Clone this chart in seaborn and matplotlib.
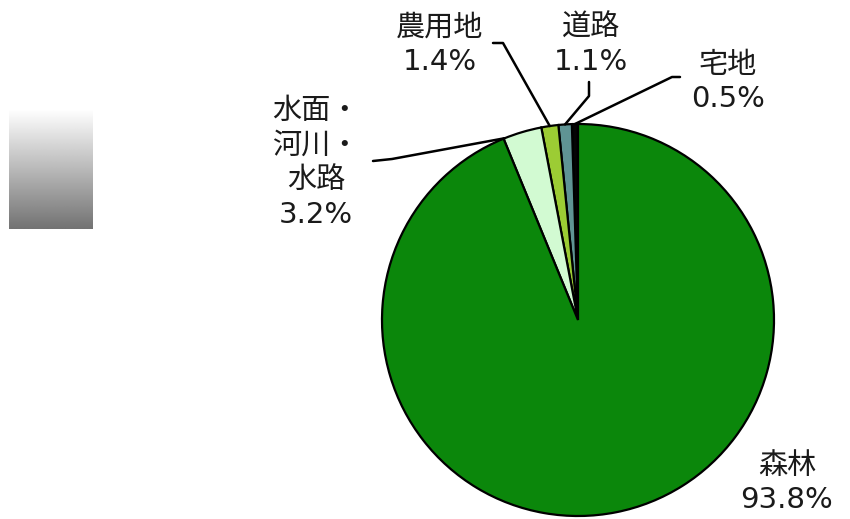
import numpy as np
import matplotlib
matplotlib.use("Agg")
import matplotlib.pyplot as plt
import seaborn as sns

# ---- data ----
categories = ["宅地", "道路", "農用地", "水面・\n河川・\n水路", "森林"]
values = [0.5, 1.1, 1.4, 3.2, 93.8]
pct_labels = ["0.5%", "1.1%", "1.4%", "3.2%", "93.8%"]
colors = ["#050505", "#5f9494", "#9ccc34", "#d2fad2", "#0b870b"]

sns.set_theme(style="white")
plt.rcParams["font.family"] = ["DejaVu Sans", "Noto Sans CJK JP"]

W, H = 850, 519
fig = plt.figure(figsize=(W / 100, H / 100), dpi=100)
ax = fig.add_axes([0, 0, 1, 1])
ax.set_xlim(0, W)
ax.set_ylim(0, H)
ax.axis("off")

cx, cy, R = 578, H - 320, 196
wedges, _ = ax.pie(values, colors=colors, startangle=90, counterclock=True,
                   center=(cx, cy), radius=R,
                   wedgeprops=dict(edgecolor="black", linewidth=1.6))
ax.set_xlim(0, W)
ax.set_ylim(0, H)
ax.set_aspect("auto")

# decorative gradient box on the left
grad = np.linspace(1.0, 0.45, 200).reshape(-1, 1)
ax.imshow(grad, cmap="gray", vmin=0, vmax=1, aspect="auto",
          extent=(9, 93, H - 229, H - 109), zorder=0)

txt_color = "#1a1a1a"
fs = 21

def yy(y):
    return H - y

layout = {
    "宅地": dict(xy=(728, 82), pts=[(680, 77), (672, 77)], frac=0.5),
    "道路": dict(xy=(591, 45), pts=[(589, 82), (589, 96)], frac=0.5),
    "農用地": dict(xy=(440, 45), pts=[(493, 43), (503, 43)], frac=0.5),
    "水面・\n河川・\n水路": dict(xy=(316, 163), pts=[(373, 161), (392, 159)], frac=0.97),
    "森林": dict(xy=(787, 483), pts=None, frac=0.5),
}

for w, cat, pl in zip(wedges, categories, pct_labels):
    L = layout[cat]
    txt = cat + "\n" + pl
    x, y = L["xy"]
    ax.text(x, yy(y), txt, ha="center", va="center", fontsize=fs,
            color=txt_color, linespacing=1.3, zorder=5)
    if L["pts"] is not None:
        ang = np.deg2rad(w.theta1 + (w.theta2 - w.theta1) * L["frac"])
        ax_, ay_ = cx + R * np.cos(ang), cy + R * np.sin(ang)
        xs = [p[0] for p in L["pts"]] + [ax_]
        ys = [yy(p[1]) for p in L["pts"]] + [ay_]
        ax.plot(xs, ys, color="black", lw=1.8, zorder=4,
                solid_joinstyle="round", solid_capstyle="round")

fig.savefig("out.png", dpi=100, facecolor="white")
